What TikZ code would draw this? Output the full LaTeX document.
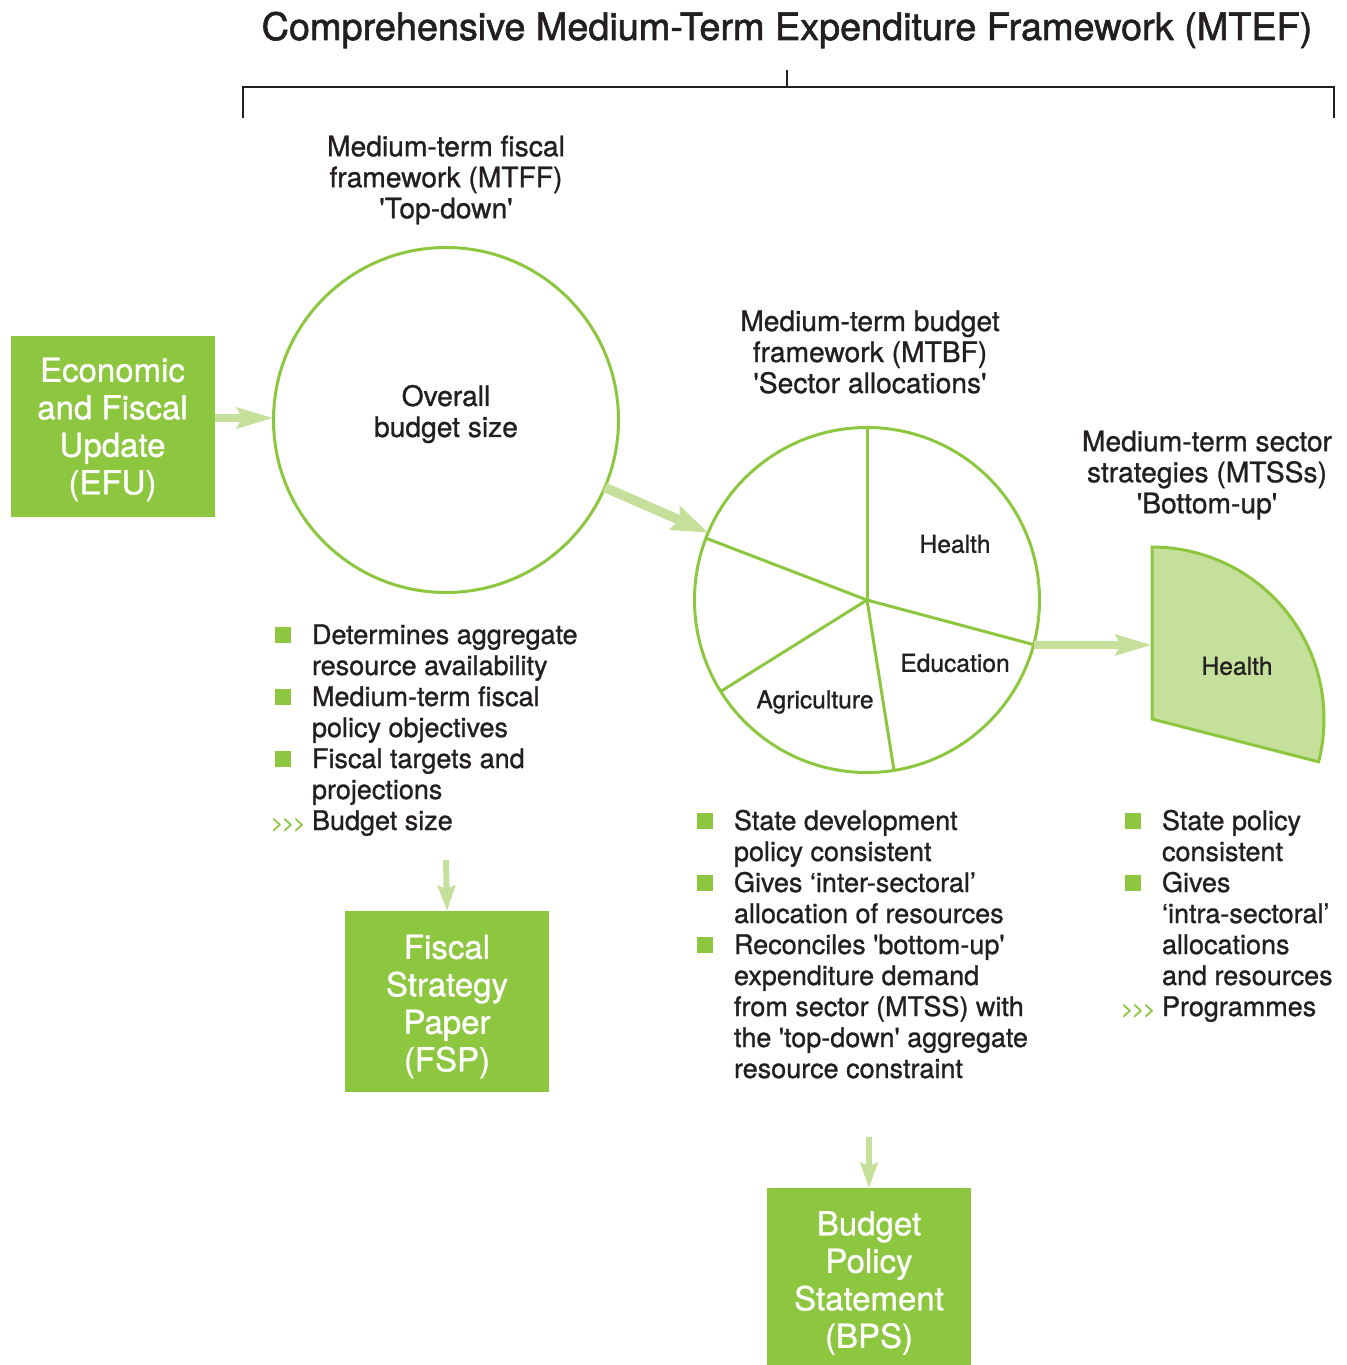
\documentclass[tikz,border=0pt]{standalone}
\usepackage{fontspec}
\setmainfont{TeX Gyre Heros}[Ligatures=TeXOff, FakeBold=1]
\newfontfamily\titlefont{TeX Gyre Heros}[Ligatures=TeXOff, FakeBold=1.6]
\usetikzlibrary{arrows.meta}
\definecolor{mgreen}{RGB}{141,198,63}
\definecolor{lgreen}{RGB}{197,224,155}
\definecolor{ink}{RGB}{35,31,32}
\newcommand{\bulsq}{\textcolor{mgreen}{\rule[0.6pt]{7.8pt}{7.8pt}}}
\newcommand{\chev}{\hspace*{-2pt}\textcolor{mgreen}{\fontsize{10.5}{10.5}\selectfont >\kern-0.6pt>\kern-0.6pt>}}
\newcommand{\myitem}{\makebox[18.5pt][l]{\bulsq}}
\newcommand{\mychev}{\makebox[18.5pt][l]{\chev}}
\newcommand{\myind}{\hspace*{18.5pt}}
\begin{document}
\begin{tikzpicture}[x=0.5pt,y=-0.5pt,
  every node/.style={inner sep=0pt, outer sep=0pt, text=ink},
  bodytext/.style={font=\fontsize{13.5}{15.5}\selectfont},
  header/.style={font=\fontsize{14.1}{15.5}\selectfont, align=center},
  slicelabel/.style={font=\fontsize{12.3}{14}\selectfont},
  greenbox/.style={fill=mgreen, minimum width=102pt, minimum height=90.5pt},
  boxtext/.style={text=white, font=\fontsize{16.5}{18.75}\selectfont, align=center},
  ring/.style={circle, draw=mgreen, line width=1.5pt, minimum size=172.5pt},
  spoke/.style={draw=mgreen, line width=1.5pt},
  bigarrow/.style={draw=lgreen, line width=4.2pt, -{Stealth[length=18pt,width=10pt,inset=2.5pt]}},
  smallarrow/.style={draw=lgreen, line width=3pt, -{Stealth[length=12.5pt,width=8.5pt,inset=1.5pt]}},
  bracket/.style={draw=ink, line width=1pt}
]
\useasboundingbox (0,0) rectangle (1346,1365);

% title and bracket
\node (title) at (787,30) {\titlefont\fontsize{18.9}{20}\selectfont Comprehensive Medium-Term Expenditure Framework (MTEF)};
\coordinate (brL) at (243,118);
\coordinate (brR) at (1334,118);
\coordinate (brM) at (787,87);
\coordinate (brT) at (787,70);
\draw[bracket] (brL) |- (brM) -| (brR);
\draw[bracket] (brM) -- (brT);

% boxes
\node[greenbox] (efu) at (112.5,426.5) {};
\node[boxtext] (efutxt) at (112.5,429.5) {Economic\\and Fiscal\\Update\\(EFU)};
\node[greenbox] (fsp) at (447,1001.5) {};
\node[boxtext] (fsptxt) at (447,1006.5) {Fiscal\\Strategy\\Paper\\(FSP)};
\node[greenbox, minimum height=88.5pt] (bps) at (869,1276.5) {};
\node[boxtext] (bpstxt) at (869,1283) {Budget\\Policy\\Statement\\(BPS)};

% headers
\node[header] (h1) at (446,180) {Medium-term fiscal\\framework (MTFF)\\'Top-down'};
\node[header] (h2) at (870,352) {Medium-term budget\\framework (MTBF)\\'Sector allocations'};
\node[header] (h3) at (1207,475) {Medium-term sector\\strategies (MTSSs)\\'Bottom-up'};

% circle 1
\node[ring] (c1) at (446,420) {};
\node[header] (c1txt) at (446,414) {Overall\\budget size};

% pie
\node[ring] (pie) at (867,600) {};
\draw[spoke] (pie.center) -- (pie.90);
\draw[spoke] (pie.center) -- (pie.159.4);
\draw[spoke] (pie.center) -- (pie.212.6);
\draw[spoke] (pie.center) -- (pie.279.2);
\draw[spoke] (pie.center) -- (pie.345.6);
\node[slicelabel] (phealth) at (955,544) {Health};
\node[slicelabel] (pedu) at (955,663) {Education};
\node[slicelabel] (pagri) at (815,702) {Agriculture};

% wedge
\coordinate (wc) at (1152,719);
\coordinate (wtop) at (1152,547);
\coordinate (wl) at (1152,645);
\draw[draw=mgreen, fill=lgreen, line width=1.5pt, line join=miter]
  (wc) -- (wtop) arc[start angle=-90, end angle=14.4, radius=172] -- cycle;
\node[slicelabel] (whealth) at (1237,666) {Health};

% arrows
\draw[bigarrow] (efu.east |- 0,418) -- (c1.west |- 0,418);
\draw[bigarrow, line width=4.8pt, -{Stealth[length=18pt,width=12.5pt,inset=2.5pt]}] (c1.-23.8) -- (pie.157.8);
\draw[bigarrow] (pie.-14.4 |- 0,645) -- (wl);
\coordinate (a1s) at (446,860);
\coordinate (a2s) at (869,1137);
\draw[smallarrow] (a1s) -- (fsp.north);
\draw[smallarrow] (a2s) -- (bps.north);

% lists
\node[bodytext, anchor=base west] (list1) at (275,644) {\begin{tabular}[t]{@{}l@{}}
\myitem Determines aggregate\\
\myind resource availability\\
\myitem Medium-term fiscal\\
\myind policy objectives\\
\myitem Fiscal targets and\\
\myind projections\\
\mychev Budget size
\end{tabular}};
\node[bodytext, anchor=base west] (list2) at (697,830) {\begin{tabular}[t]{@{}l@{}}
\myitem State development\\
\myind policy consistent\\
\myitem Gives ‘inter-sectoral’\\
\myind allocation of resources\\
\myitem Reconciles 'bottom-up'\\
\myind expenditure demand\\
\myind from sector (MTSS) with\\
\myind the 'top-down' aggregate\\
\myind resource constraint
\end{tabular}};
\node[bodytext, anchor=base west] (list3) at (1125,830) {\begin{tabular}[t]{@{}l@{}}
\myitem State policy\\
\myind consistent\\
\myitem Gives\\
\myind ‘intra-sectoral’\\
\myind allocations\\
\myind and resources\\
\mychev Programmes
\end{tabular}};
\end{tikzpicture}
\end{document}
